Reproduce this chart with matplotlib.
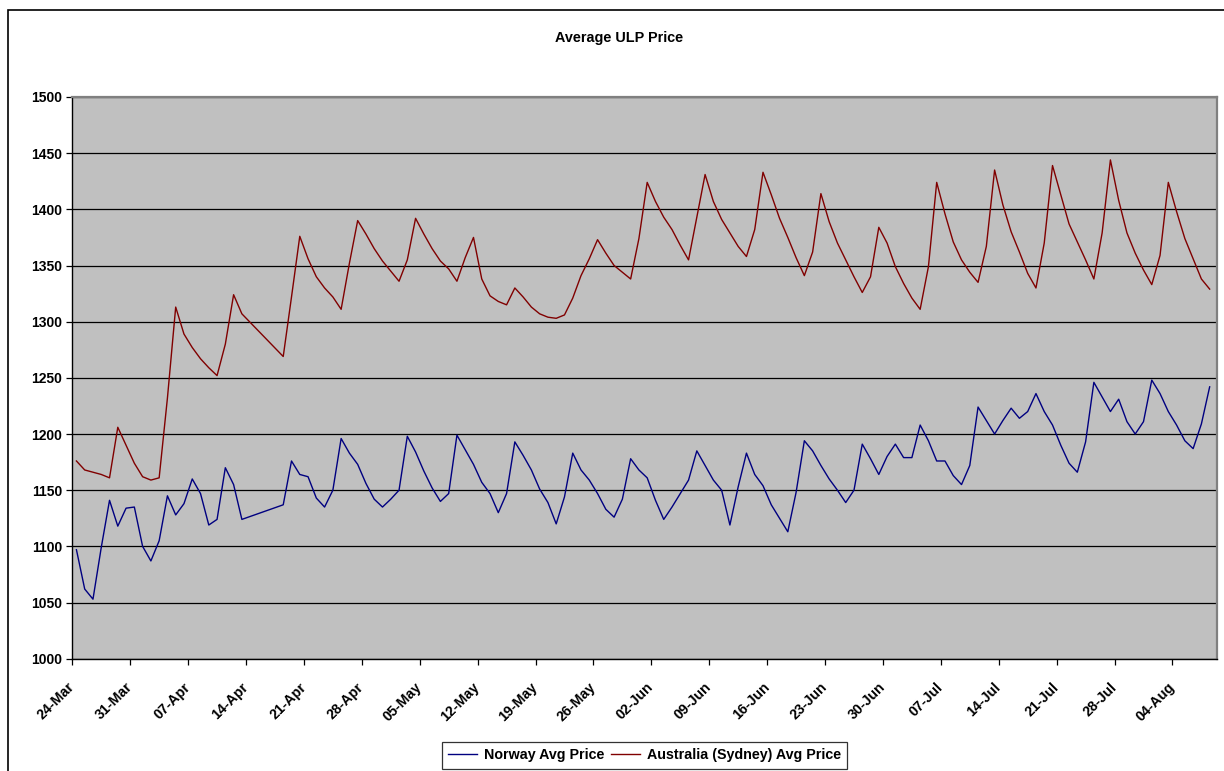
import matplotlib
matplotlib.use("Agg")
import matplotlib.pyplot as plt
import matplotlib.dates as mdates
import matplotlib.transforms as mtransforms
from matplotlib.patches import Rectangle
import pandas as pd

plt.rcParams["font.family"] = ["Liberation Sans", "DejaVu Sans"]
plt.rcParams["font.weight"] = "bold"

# daily readings, no data for 14-17 Apr
start = "2008-03-24"
end = "2008-08-08"
missing = ["2008-04-14", "2008-04-15", "2008-04-16", "2008-04-17"]

norway = [
    1097, 1062, 1053, 1099, 1141, 1118, 1134, 1135,
    1100, 1087, 1105, 1145, 1128, 1138, 1160, 1147, 1119, 1124, 1170, 1155, 1124,
    1137, 1176, 1164, 1162, 1143, 1135, 1150, 1196, 1183, 1173, 1156, 1142, 1135,
    1142, 1150, 1198, 1184, 1167, 1152, 1140, 1147, 1199, 1186, 1173, 1157, 1147,
    1130, 1147, 1193, 1181, 1168, 1151, 1139, 1120, 1144, 1183, 1168, 1159, 1147,
    1133, 1126, 1142, 1178, 1168,
    1161, 1141, 1124, 1135, 1147, 1159, 1185, 1172, 1159, 1150, 1119, 1153, 1183,
    1164, 1154, 1137, 1125, 1113, 1148, 1194, 1185, 1172, 1160, 1150, 1139, 1150,
    1191, 1178, 1164, 1180,
    1191, 1179, 1179, 1208, 1194, 1176, 1176, 1163, 1155, 1172, 1224, 1212, 1200,
    1212, 1223, 1214, 1220, 1236, 1220, 1208, 1190, 1174, 1166, 1193, 1246, 1233,
    1220, 1231, 1211, 1200, 1211,
    1248, 1236, 1220, 1208, 1194, 1187, 1209, 1242,
]

sydney = [
    1176, 1168, 1166, 1164, 1161, 1206, 1190, 1174,
    1162, 1159, 1161, 1232, 1313, 1289, 1277, 1267, 1259, 1252, 1280, 1324, 1307,
    1269, 1322, 1376, 1356, 1340, 1330, 1322, 1311, 1352, 1390, 1378, 1365, 1354,
    1345, 1336, 1355, 1392, 1378, 1365, 1354, 1347, 1336, 1357, 1375, 1338, 1323,
    1318, 1315, 1330, 1322, 1313, 1307, 1304, 1303, 1306, 1321, 1341, 1356, 1373,
    1361, 1350, 1344, 1338, 1374,
    1424, 1407, 1393, 1382, 1368, 1355, 1393, 1431, 1407, 1391, 1379, 1367, 1358,
    1382, 1433, 1413, 1392, 1375, 1357, 1341, 1362, 1414, 1389, 1370, 1355, 1340,
    1326, 1340, 1384, 1370,
    1349, 1334, 1321, 1311, 1349, 1424, 1396, 1371, 1355, 1344, 1335, 1367, 1435,
    1404, 1380, 1362, 1343, 1330, 1370, 1439, 1413, 1387, 1371, 1355, 1338, 1379,
    1444, 1408, 1379, 1361, 1346,
    1333, 1359, 1424, 1398, 1374, 1356, 1338, 1329,
]

dates = pd.date_range(start, end, freq="D")
dates = dates[~dates.isin(pd.to_datetime(missing))]
# Excel date axis puts each point in the middle of its day
xpos = dates + pd.Timedelta(hours=12)

W, H = 1224, 771
fig = plt.figure(figsize=(W / 100, H / 100), dpi=100)
ax = fig.add_axes([72.3 / W, 1 - 658.7 / H, (1216.7 - 72.3) / W, (658.7 - 97) / H])
ax.set_facecolor("#C0C0C0")

ax.plot(xpos, norway, color="#000080", lw=1.0, label="Norway Avg Price")
ax.plot(xpos, sydney, color="#800000", lw=1.0, label="Australia (Sydney) Avg Price")

t0 = pd.Timestamp(start)
ax.set_xlim(t0, t0 + pd.Timedelta(days=138.35))
ax.set_ylim(1000, 1500)
ax.set_yticks(range(1000, 1501, 50))
ax.yaxis.grid(True, color="black", lw=0.9)
ax.set_axisbelow(True)

ax.set_xticks(pd.date_range(start, "2008-08-04", freq="7D"))
ax.xaxis.set_major_formatter(mdates.DateFormatter("%d-%b"))
ax.tick_params(direction="out", length=4, width=0.9)
ax.tick_params(axis="y", labelsize=10)
ax.tick_params(axis="x", labelsize=10.2, pad=5)
shift = mtransforms.ScaledTranslation(-5 / 100, -9 / 100, fig.dpi_scale_trans)
for lab in ax.get_xticklabels():
    lab.set_rotation(45)
    lab.set_ha("right")
    lab.set_va("top")
    lab.set_rotation_mode("anchor")
    lab.set_fontweight("bold")
    lab.set_transform(lab.get_transform() + shift)
for lab in ax.get_yticklabels():
    lab.set_fontweight("bold")

for s in ["left", "bottom"]:
    ax.spines[s].set_color("black")
    ax.spines[s].set_linewidth(1.0)
for s in ["top", "right"]:
    ax.spines[s].set_color("#808080")
    ax.spines[s].set_linewidth(1.6)

fig.text(619 / W, 1 - 38 / H, "Average ULP Price", ha="center", va="center",
         fontsize=10.4, fontweight="bold")

leg = fig.legend(loc="upper left", bbox_to_anchor=(442 / W, 1 - 742 / H), ncol=2,
                 frameon=True, fancybox=False, edgecolor="black", fontsize=10.3,
                 handlelength=2.0, columnspacing=0.5, handletextpad=0.48,
                 borderaxespad=0, borderpad=0.45)
leg.get_frame().set_linewidth(0.9)
for t in leg.get_texts():
    t.set_fontweight("bold")

# chart area border, cropped at right and bottom in the source
fig.patches.append(Rectangle((8 / W, -0.2), 1.2, 1 - 10 / H + 0.2,
                             transform=fig.transFigure, fill=False,
                             edgecolor="black", lw=1.2))

fig.savefig("out.png", dpi=100)
